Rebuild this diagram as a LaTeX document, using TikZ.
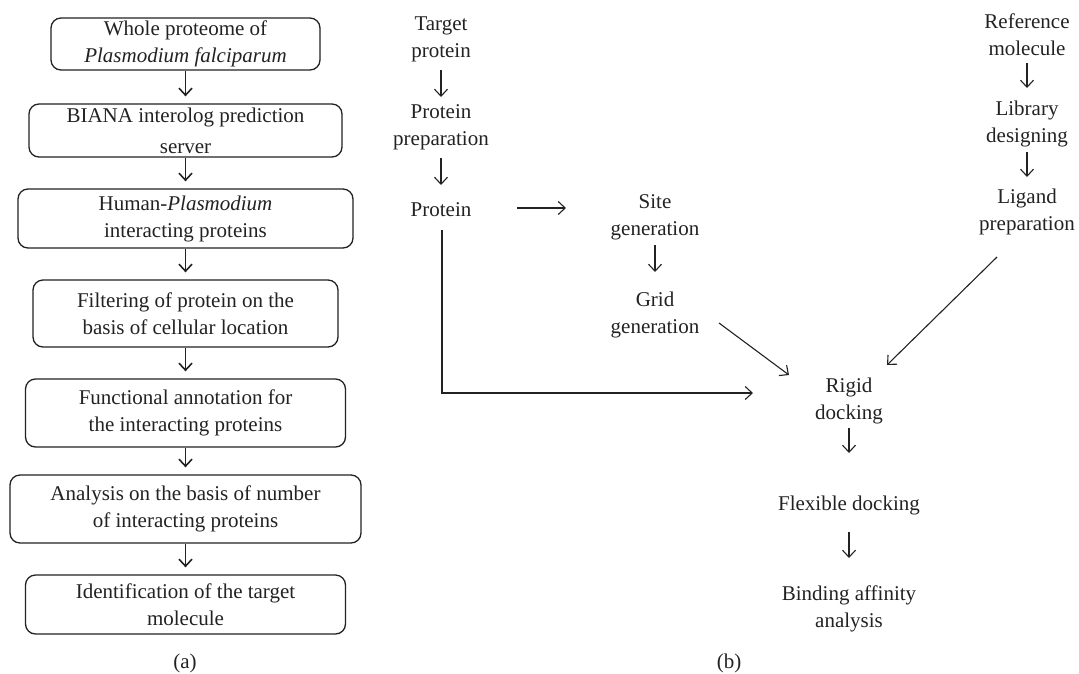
\documentclass[tikz,border=0pt]{standalone}
\usepackage{fontspec}
\setmainfont{Liberation Serif}
\usetikzlibrary{arrows.meta,calc}
\definecolor{ink}{HTML}{222222}
\begin{document}
\begin{tikzpicture}[x=1pt,y=-1pt,
  txt/.style={font=\fontsize{21}{27}\selectfont, text=ink, align=center, inner sep=0pt},
  box/.style={txt, draw=ink, line width=1.3pt, rounded corners=10pt},
  arr/.style={draw=ink, line width=1.1pt, -{Straight Barb[length=7pt,width=13pt]}},
  boxarr/.style={arr, line width=1.6pt, shorten >=7pt}]
\useasboundingbox (0,0) rectangle (1079,673);
% (a) column
\node[box, minimum width=269pt, minimum height=52pt] (b1) at (185.5,44) {Whole proteome of\\\textit{Plasmodium falciparum}};
\node[box, minimum width=313pt, minimum height=53pt] (b2) at (185.5,130.5) {BIANA interolog prediction\\[4pt]server};
\node[box, minimum width=335pt, minimum height=59pt] (b3) at (185.5,218.5) {Human-\textit{Plasmodium}\\interacting proteins};
\node[box, minimum width=305pt, minimum height=67pt] (b4) at (185.5,313.5) {Filtering of protein on the\\basis of cellular location};
\node[box, minimum width=320pt, minimum height=68pt] (b5) at (185.5,413) {Functional annotation for\\the interacting proteins};
\node[box, minimum width=351pt, minimum height=68pt] (b6) at (185.5,509) {Analysis on the basis of number\\of interacting proteins};
\node[box, minimum width=320pt, minimum height=59pt] (b7) at (185.5,604.5) {Identification of the target\\molecule};
\foreach \a/\b in {b1/b2,b2/b3,b3/b4,b4/b5,b5/b6,b6/b7}
  \draw[boxarr] (\a.south) -- (\b.north);
\node[txt] (la) at (185,663) {(a)};
% (b) part
\node[txt] (target) at (441,39) {Target\\protein};
\node[txt] (prep) at (441,127) {Protein\\preparation};
\node[txt] (protein) at (441,210) {Protein};
\node[txt] (site) at (655,217) {Site\\generation};
\node[txt] (grid) at (655,315) {Grid\\generation};
\node[txt] (ref) at (1027,35) {Reference\\molecule};
\node[txt] (lib) at (1027,124) {Library\\designing};
\node[txt] (lig) at (1027,212) {Ligand\\preparation};
\node[txt] (rigid) at (849,401) {Rigid\\docking};
\node[txt] (flex) at (849,505) {Flexible docking};
\node[txt] (bind) at (849,609) {Binding affinity\\analysis};
\node[txt] (lb) at (729,663) {(b)};
\draw[arr, shorten <=31pt, shorten >=30pt] (target.center) -- (prep.center);
\draw[arr, shorten <=31pt, shorten >=25pt] (prep.center) -- (protein.center);
\draw[arr] ($(protein.center)+(76,-2)$) -- ($(site.center)+(-89,-9)$);
\draw[arr, shorten <=28pt, shorten >=43pt] (site.center) -- (grid.center);
\draw[arr] ($(grid.center)+(64,8)$) -- ($(rigid.center)+(-60,-26)$);
\draw[arr] ($(protein.center)+(1,20)$) |- ($(rigid.center)+(-96,-8)$);
\draw[arr] ($(lig.center)+(-30,45)$) -- ($(rigid.center)+(38,-36)$);
\draw[arr, shorten <=28pt, shorten >=36pt] (ref.center) -- (lib.center);
\draw[arr, shorten <=28pt, shorten >=35pt] (lib.center) -- (lig.center);
\draw[arr, shorten <=27pt, shorten >=52pt] (rigid.center) -- (flex.center);
\draw[arr, shorten <=27pt, shorten >=51pt] (flex.center) -- (bind.center);
\end{tikzpicture}
\end{document}
